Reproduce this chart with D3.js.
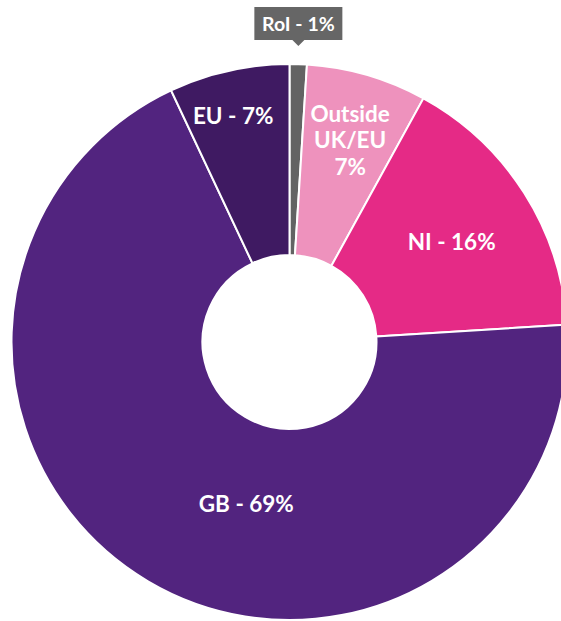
<!DOCTYPE html>
<html><head><meta charset="utf-8">
<script src="https://cdn.jsdelivr.net/npm/d3@7"></script>
<style>body{margin:0;background:#fff}svg{display:block}text{font-family:Lato,"Open Sans",sans-serif;font-weight:700;fill:#fff}</style>
</head><body>
<script>
const categories = ["RoI", "Outside UK/EU", "NI", "GB", "EU"];
const values = [1, 7, 16, 69, 7];
const labels = [["RoI - 1%"], ["Outside", "UK/EU", "7%"], ["NI - 16%"], ["GB - 69%"], ["EU - 7%"]];
const colors = ["#636363", "#ee92bd", "#e52a86", "#52247f", "#3f1a62"];

const W = 561, H = 621;
const cx = 289.5, cy = 342, R = 278, r0 = 87;
const svg = d3.select("body").append("svg").attr("width", W).attr("height", H);
const g = svg.append("g").attr("transform", `translate(${cx},${cy})`);

const data = categories.map((c, i) => ({c, v: values[i], lab: labels[i], col: colors[i]}));
const pie = d3.pie().value(d => d.v).sort(null);
const arcs = pie(data);
const arc = d3.arc().innerRadius(r0).outerRadius(R);

g.selectAll("path").data(arcs).join("path")
  .attr("d", arc).attr("fill", d => d.data.col)
  .attr("stroke", "#fff").attr("stroke-width", 2);

// label radius and angular tweak per slice (layout)
const labelPos = {
  "Outside UK/EU": {r: 211, da: 0.5},
  "NI": {r: 191, da: 0.5},
  "GB": {r: 167, da: -15.6},
  "EU": {r: 233, da: -1.4}
};
const fs = 22.5, lh = 26.5;
arcs.forEach(a => {
  const name = a.data.c;
  if (name === "RoI") {
    const mid = (a.startAngle + a.endAngle) / 2;
    const tx = Math.sin(mid) * (R + 4);
    const bx = tx, by = -cy + 23.5;
    const bw = 88, bh = 33;
    g.append("rect").attr("x", bx - bw / 2).attr("y", by - bh / 2)
      .attr("width", bw).attr("height", bh).attr("fill", "#666");
    g.append("path").attr("d", `M${bx - 6},${by + bh / 2}L${bx},${by + bh / 2 + 6}L${bx + 6},${by + bh / 2}Z`).attr("fill", "#666");
    g.append("text").attr("x", bx).attr("y", by).attr("text-anchor", "middle")
      .attr("dominant-baseline", "central").style("font-size", "19.5px").text(a.data.lab[0]);
    return;
  }
  const p = labelPos[name];
  const ang = (a.startAngle + a.endAngle) / 2 + p.da * Math.PI / 180;
  const x = Math.sin(ang) * p.r, y = -Math.cos(ang) * p.r;
  const n = a.data.lab.length;
  a.data.lab.forEach((t, i) => {
    g.append("text").attr("x", x).attr("y", y + (i - (n - 1) / 2) * lh)
      .attr("text-anchor", "middle").attr("dominant-baseline", "central")
      .style("font-size", fs + "px").text(t);
  });
});
</script>
</body></html>
